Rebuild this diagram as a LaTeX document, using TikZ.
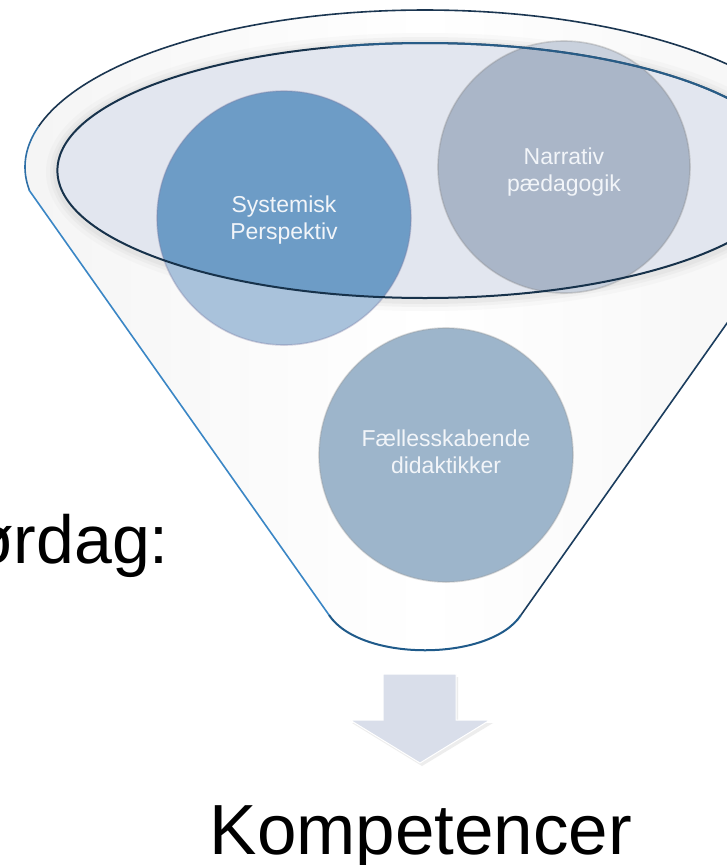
\documentclass[tikz,border=0pt]{standalone}
\usepackage{fontspec}
\setmainfont{Liberation Sans}
\definecolor{innerfill}{HTML}{E2E6EF}
\definecolor{rimnavy}{HTML}{1B3651}
\definecolor{rimblue}{HTML}{2E6FA6}
\definecolor{sideblue}{HTML}{3A86C5}
\definecolor{botblue}{HTML}{1F5A8A}
\definecolor{sidenavy}{HTML}{1B3D5E}
\definecolor{ellnavy}{HTML}{17324B}
\definecolor{ellblue}{HTML}{2C6796}
\definecolor{sysdark}{HTML}{6D9CC6}
\definecolor{syslight}{HTML}{A9C2DB}
\definecolor{narcol}{HTML}{AAB6C8}
\definecolor{narlight}{HTML}{C9D1DD}
\definecolor{falcol}{HTML}{9DB5CB}
\definecolor{arrowfill}{HTML}{D9DEEA}
\definecolor{textwhite}{HTML}{F2F5F9}
\begin{document}
\begin{tikzpicture}[x=1pt,y=-1pt,
  circtext/.style={text=textwhite, align=center, font=\fontsize{23}{27}\selectfont, inner sep=0pt},
  bigtext/.style={text=black, inner sep=0pt},
  circrim/.style={line width=1.6pt, opacity=0.35}]
\useasboundingbox (0,0) rectangle (726,865);
\fill[white] (0,0) rectangle (726,865);

% funnel body
\shade[left color=black!4, right color=black!4, middle color=white]
  plot[domain=-8.4:188.4, samples=120] ({425+400*cos(\x)},{167-157*sin(\x)})
  -- (329,615) .. controls (360,662) and (490,662) .. (521,615) -- cycle;

% glow around inner ellipse
\foreach \w/\o in {22/0.08,14/0.12,8/0.16}{
  \draw[black!25, line width=\w pt, opacity=\o] (425,172) ellipse[x radius=368, y radius=128];
}

% inner ellipse fill
\fill[innerfill] (425,170.5) ellipse[x radius=367.6, y radius=127.5];

% circles: Systemisk and Narrativ inside the inner ellipse
\fill[syslight] (284,218) circle[radius=127];
\begin{scope}
  \clip (425,170.5) ellipse[x radius=367.6, y radius=127.5];
  \fill[sysdark] (284,218) circle[radius=127];
  \fill[narcol] (564,167) circle[radius=126];
\end{scope}
% Narrativ part outside the inner ellipse (top slice)
\begin{scope}[even odd rule]
  \clip (0,0) rectangle (726,865) (425,170.5) ellipse[x radius=367.6, y radius=127.5];
  \fill[narlight] (564,167) circle[radius=126];
\end{scope}
\draw[circrim, black!45] (564,167) circle[radius=126];
\draw[circrim, blue!30!black!50] (284,218) circle[radius=127];

% Faellesskabende
\fill[falcol] (446,455) circle[radius=127];
\draw[circrim, black!40] (446,455) circle[radius=127];

% inner ellipse stroke
\draw[ellnavy, line width=2pt] (425,170.5) ellipse[x radius=367.6, y radius=127.5];
\draw[ellblue, line width=2pt, opacity=0.8]
  plot[domain=15:105, samples=60] ({425+367.6*cos(\x)},{170.5-127.5*sin(\x)});

% funnel outline
\draw[rimnavy, line width=1.6pt]
  plot[domain=-8.4:165, samples=120] ({425+400*cos(\x)},{167-157*sin(\x)});
\draw[rimblue, line width=1.6pt]
  plot[domain=165:188.4, samples=30] ({425+400*cos(\x)},{167-157*sin(\x)});
\coordinate (lt) at (29,190);
\coordinate (lb) at (329,615);
\coordinate (rb) at (521,615);
\coordinate (rt) at (821,190);
\draw[sideblue, line width=1.6pt, line cap=round] (lt) -- (lb);
\draw[botblue, line width=2pt] (lb) .. controls (360,662) and (490,662) .. (rb);
\draw[sidenavy, line width=1.6pt] (rb) -- (rt);

% circle texts
\node[circtext] (sys) at (284,220) {Systemisk\\Perspektiv};
\node[circtext] (nar) at (564,172) {Narrativ\\pædagogik};
\node[circtext] (fal) at (446,452) {Fællesskabende\\didaktikker};

% left text
\node[bigtext, anchor=base west, font=\fontsize{68}{72}\selectfont] (dag) at (-28,563) {ørdag:};

% arrow
\fill[black!20, opacity=0.35] (385,677) -- (458,677) -- (458,723) -- (493,723) -- (422,766) -- (352,723) -- (385,723) -- cycle;
\filldraw[fill=arrowfill, draw=white, line width=1pt] (383,674) -- (456,674) -- (456,720) -- (490,720) -- (420,763) -- (350,720) -- (383,720) -- cycle;

% bottom text
\node[bigtext, anchor=base, font=\fontsize{71}{75}\selectfont] (komp) at (421,854) {Kompetencer};
\end{tikzpicture}
\end{document}
